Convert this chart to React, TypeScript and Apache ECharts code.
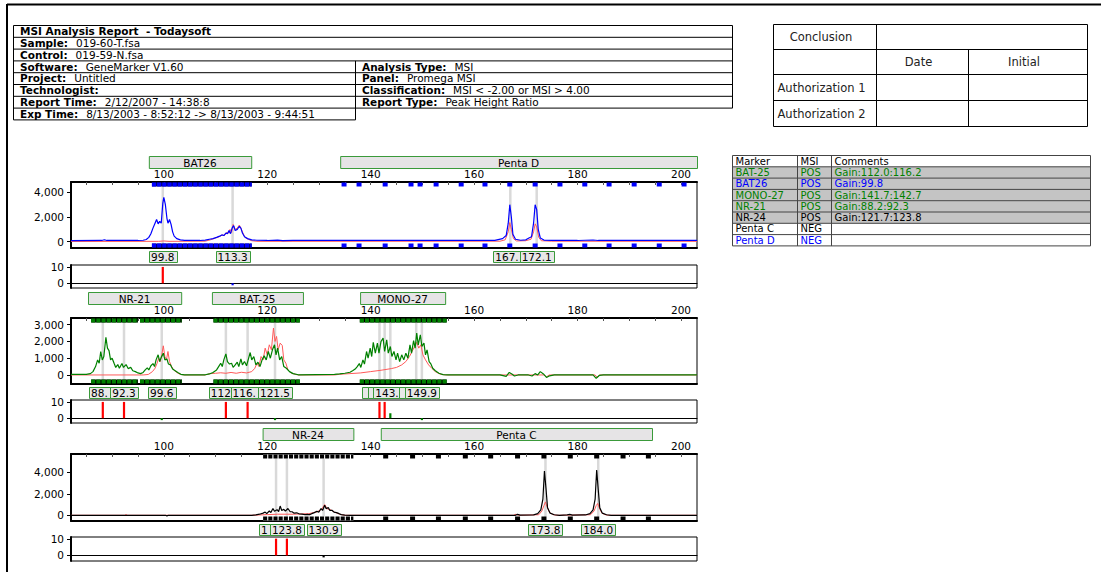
import React, { useEffect, useRef } from 'react';
import * as echarts from 'echarts';

const FONT = '"DejaVu Sans", Verdana, sans-serif';

// ---------- axes ----------
const X_MIN = 82.05;
const X_MAX = 203.1;
const X_LABELS = [100, 120, 140, 160, 180, 200];
const X_TICKS = [85, 90, 95, 100, 105, 110, 115, 120, 125, 130, 135, 140, 145, 150, 155, 160, 165, 170, 175, 180, 185, 190, 195, 200];
const RATIO_TICKS = [0, 10];

// ---------- panel 1 (BAT26 / Penta D, blue) ----------
const P1_Y_TICKS = [0, 2000, 4000];
const P1_SAMPLE: [number, number][] = [
  [82.05, 90], [88, 100], [88.5, 160], [89, 100], [95, 100], [96, 120], [96.6, 180], [97.1, 350], [97.5, 650], [97.9, 1100],
  [98.3, 1500], [98.6, 1800], [98.9, 1450], [99.2, 1650], [99.5, 1500], [99.8, 3100], [100, 3600], [100.3, 3000], [100.6, 1900],
  [100.8, 1500], [101.1, 1800], [101.4, 1400], [101.7, 800], [102, 450], [102.5, 250], [103.2, 150], [104, 110], [107, 100],
  [108, 130], [108.8, 200], [109.5, 250], [110.2, 350], [110.8, 450], [111.2, 550], [111.6, 500], [112, 700], [112.3, 650],
  [112.6, 900], [112.9, 650], [113.2, 1100], [113.5, 1300], [113.8, 900], [114.2, 1000], [114.6, 1250], [114.9, 1100],
  [115.2, 700], [115.6, 400], [116.2, 250], [117, 150], [118, 120], [120, 100], [122, 130], [123, 90], [125, 110], [130, 100],
  [135, 110], [140, 100], [145, 110], [150, 100], [155, 100], [160, 110], [164, 110], [165.5, 250], [166.2, 500], [166.6, 1500],
  [166.9, 3000], [167.2, 2000], [167.5, 600], [168, 200], [169, 120], [170, 150], [170.6, 300], [171.1, 400], [171.5, 1500],
  [171.8, 3000], [172.1, 2600], [172.4, 1000], [172.8, 300], [173.5, 130], [175, 110], [180, 100], [183, 140], [184, 100],
  [190, 100], [195, 110], [203.1, 100],
];
const P1_CONTROL: [number, number][] = [
  [82.05, 20], [99, 30], [100, 60], [101, 30], [108, 40], [109, 150], [110, 300], [110.8, 420], [111.3, 550], [111.7, 500],
  [112.1, 750], [112.5, 700], [112.8, 1000], [113.1, 750], [113.4, 1400], [113.8, 1000], [114.2, 1100], [114.6, 1350],
  [114.9, 1100], [115.3, 700], [115.7, 350], [116.3, 200], [117, 80], [118, 30], [165, 40], [166, 150], [166.6, 800],
  [166.9, 1550], [167.2, 1000], [167.6, 250], [168.2, 60], [170, 80], [171, 200], [171.5, 800], [171.8, 1450], [172.1, 1200],
  [172.5, 350], [173, 80], [175, 40], [203.1, 30],
];
const P1_MARKERS = ['BAT26', 'Penta D'];
const P1_MARKER_SPANS: [number, number][] = [[97.1, 116.9], [134.1, 203.1]];
const P1_BIN_RANGES: [number, number][] = [[97.7, 117.0]];
const P1_BINS = [134.85, 137.75, 142.8, 147.8, 149.55, 152.65, 157.5, 162.1, 166.9, 171.8, 176.6, 181.4, 186.1, 190.95, 195.8, 200.6];
const P1_PEAKS = [99.8, 113.3, 167.0, 172.1];
const P1_PEAK_TEXT = ['99.8', '113.3', '167.0', '172.1'];
const P1_RATIO: [number, number][] = [[99.8, 10.2], [113.3, -1.2]];
const P1_RATIO_COLORS = ['#ff0000', '#0000ff'];

// ---------- panel 2 (NR-21 / BAT-25 / MONO-27, green) ----------
const P2_Y_TICKS = [0, 1000, 2000, 3000];
const P2_SAMPLE: [number, number][] = [
  [82.05, 40], [85, 40], [85.8, 80], [86.3, 200], [86.8, 500], [87.2, 900], [87.5, 700], [87.8, 1400], [88.1, 900], [88.4, 1100],
  [88.8, 2250], [89.1, 1600], [89.4, 1450], [89.7, 900], [90, 1000], [90.4, 680], [90.7, 450], [91.1, 620], [91.4, 400],
  [91.9, 680], [92.2, 450], [92.7, 620], [93.1, 380], [93.6, 450], [94, 250], [94.5, 200], [95, 120], [95.5, 80], [96, 150],
  [96.4, 300], [96.8, 420], [97.1, 300], [97.5, 550], [97.9, 680], [98.2, 500], [98.5, 900], [98.9, 1200], [99.2, 800],
  [99.5, 1050], [99.9, 1300], [100.2, 900], [100.6, 950], [100.9, 650], [101.3, 600], [101.7, 350], [102.2, 250], [102.7, 150],
  [103.3, 40], [104, 10], [108, 10], [108.8, 60], [109.5, 150], [110.2, 300], [110.6, 500], [111, 700], [111.3, 500], [111.6, 900],
  [112, 1260], [112.3, 800], [112.7, 650], [113.1, 700], [113.4, 450], [113.8, 600], [114.2, 760], [114.5, 500], [114.9, 960],
  [115.2, 600], [115.6, 800], [116, 550], [116.4, 1000], [116.7, 1340], [117, 900], [117.4, 1100], [117.8, 600], [118.2, 760],
  [118.6, 500], [119, 900], [119.4, 1140], [119.8, 900], [120.2, 1400], [120.6, 1000], [121, 1500], [121.4, 1800], [121.7, 1200],
  [122, 1600], [122.4, 900], [122.8, 1100], [123.2, 500], [123.7, 400], [124.3, 200], [125, 80], [126, 10], [133, 30], [134, 60],
  [135, 100], [136, 160], [136.5, 250], [137, 350], [137.4, 500], [137.8, 680], [138.1, 450], [138.5, 900], [138.8, 650],
  [139.2, 1400], [139.5, 1000], [139.9, 1600], [140.2, 1100], [140.5, 1950], [140.9, 1300], [141.3, 1900], [141.6, 1300],
  [142, 2000], [142.4, 2200], [142.7, 1400], [143.1, 2100], [143.4, 1300], [143.8, 1700], [144.1, 1100], [144.5, 1400],
  [144.9, 900], [145.2, 1300], [145.6, 800], [146, 1200], [146.4, 900], [146.8, 1300], [147.2, 1000], [147.6, 1800],
  [147.9, 1300], [148.3, 2050], [148.6, 1600], [148.9, 2500], [149.2, 1800], [149.6, 2400], [149.9, 1700], [150.3, 1900],
  [150.6, 1200], [150.9, 1500], [151.3, 800], [151.6, 680], [152, 400], [152.5, 250], [153.2, 100], [154, 20], [155, 0],
  [165, 0], [166.2, -80], [166.8, 150], [167.3, 60], [167.8, -60], [168.5, 0], [170.5, 0], [171.2, -60], [171.8, 80], [172.3, 0],
  [172.8, 200], [173.4, 60], [174, -150], [174.6, -50], [175.5, 0], [183, 0], [183.6, -200], [184.2, -30], [185, 0], [203.1, 0],
];
const P2_CONTROL: [number, number][] = [
  [82.05, 0], [96, 0], [97, 30], [97.8, 200], [98.3, 400], [98.7, 700], [99, 1000], [99.3, 800], [99.6, 1200], [99.9, 1740],
  [100.2, 1100], [100.5, 900], [100.8, 1400], [101.1, 800], [101.5, 500], [101.9, 300], [102.5, 150], [103.2, 30], [104, 0],
  [108, 0], [109, 80], [110, 100], [111, 130], [112, 100], [113, 150], [114, 100], [115, 160], [116, 120], [117, 200],
  [117.6, 400], [118, 700], [118.4, 500], [118.8, 1100], [119.2, 900], [119.6, 1600], [120, 1200], [120.4, 1800], [120.8, 1500],
  [121.2, 2800], [121.5, 2000], [121.8, 2300], [122.1, 1500], [122.5, 1900], [122.9, 1760], [123.2, 900], [123.6, 700],
  [124, 300], [124.6, 120], [125.5, 30], [126, 0], [133, 0], [134, 40], [136, 80], [138, 120], [140, 200], [142, 280], [144, 380],
  [145, 450], [146, 600], [146.8, 800], [147.5, 1100], [148, 1400], [148.5, 1700], [148.9, 1950], [149.3, 1600], [149.7, 1800],
  [150.1, 1200], [150.6, 900], [151.2, 600], [151.8, 400], [152.5, 200], [153.5, 40], [154.5, 0], [173.5, 0], [174, -120],
  [174.5, 0], [183.4, 0], [183.8, -150], [184.3, 0], [203.1, 0],
];
const P2_MARKERS = ['NR-21', 'BAT-25', 'MONO-27'];
const P2_MARKER_SPANS: [number, number][] = [[85.34, 103.36], [109.3, 126.9], [137.95, 154.4]];
const P2_BIN_RANGES: [number, number][] = [[85.95, 95.0], [95.4, 103.5], [109.6, 126.3], [137.9, 154.7]];
const P2_BINS: number[] = [];
const P2_PEAKS = [88.2, 92.3, 99.6, 112.0, 116.2, 121.5, 141.7, 142.7, 143.8, 148.8, 149.9];
const P2_PEAK_TEXT = ['88.2', '92.3', '99.6', '112.0', '116.2', '121.5', '141.7', '142.7', '143.8', '148.8', '149.9'];
const P2_RATIO: [number, number][] = [
  [88.2, 10.2], [92.3, 10.2], [99.6, -1.2], [112.0, 10.2], [116.2, 10.2], [121.5, -1.2], [141.7, 10.2], [142.7, 10.2],
  [143.8, 3.1], [149.9, -1.2],
];
const P2_RATIO_COLORS = ['#ff0000', '#ff0000', '#008000', '#ff0000', '#ff0000', '#008000', '#ff0000', '#ff0000', '#008000', '#008000'];

// ---------- panel 3 (NR-24 / Penta C, black) ----------
const P3_Y_TICKS = [0, 2000, 4000];
const P3_SAMPLE: [number, number][] = [
  [82.05, 0], [100.3, 0], [100.6, -60], [100.9, 0], [117, 0], [117.8, 30], [118.5, 100], [119.2, 200], [119.6, 300], [119.9, 150],
  [120.4, 400], [120.7, 250], [121.1, 630], [121.4, 380], [121.9, 520], [122.2, 350], [122.5, 860], [122.8, 450], [123.2, 560],
  [123.5, 380], [124, 630], [124.4, 350], [124.8, 330], [125.2, 200], [125.7, 230], [126.2, 120], [126.7, 110], [127.3, 60],
  [127.8, 80], [128.2, 60], [128.6, 150], [129.1, 250], [129.6, 370], [130, 300], [130.4, 630], [130.7, 450], [131.1, 940],
  [131.4, 600], [131.8, 730], [132.1, 450], [132.5, 470], [132.9, 300], [133.4, 250], [133.9, 150], [134.3, 60], [135, 20],
  [136, 0], [168, 0], [168.4, 80], [168.9, 20], [171.5, 40], [172.3, 150], [172.9, 500], [173.3, 1500], [173.6, 4130],
  [173.9, 2500], [174.2, 700], [174.7, 200], [175.5, 50], [176.5, 0], [178, 30], [178.5, 80], [179, 10], [181.5, 30],
  [182.4, 150], [183, 500], [183.4, 1500], [183.7, 4220], [184, 2400], [184.3, 700], [184.8, 200], [185.6, 50], [186.5, 0],
  [203.1, 0],
];
const P3_CONTROL: [number, number][] = [
  [82.05, 0], [92.4, 0], [92.7, 60], [93, 0], [117, 0], [120, 60], [122, 100], [125, 100], [128, 150], [129.5, 300], [130.5, 550],
  [131.1, 1000], [131.6, 600], [132.3, 500], [133, 300], [134, 100], [135, 0], [167.6, 0], [168.1, 100], [168.6, 0], [172.5, 50],
  [173.1, 400], [173.5, 900], [173.8, 1250], [174.1, 800], [174.6, 250], [175.3, 60], [176, 0], [182.5, 50], [183.2, 400],
  [183.6, 900], [183.9, 1100], [184.2, 700], [184.7, 200], [185.4, 50], [186, 0], [203.1, 0],
];
const P3_MARKERS = ['NR-24', 'Penta C'];
const P3_MARKER_SPANS: [number, number][] = [[119.1, 136.65], [141.95, 194.4]];
const P3_BIN_RANGES: [number, number][] = [[119.2, 136.65]];
const P3_BINS = [142.9, 148.1, 153.1, 158.3, 163.2, 168.4, 173.5, 178.6, 183.7, 188.8, 193.7];
const P3_PEAKS = [121.7, 123.8, 130.9, 173.8, 184.0];
const P3_PEAK_TEXT = ['121.7', '123.8', '130.9', '173.8', '184.0'];
const P3_RATIO: [number, number][] = [[121.7, 10.2], [123.8, 10.2], [130.9, -1.2]];
const P3_RATIO_COLORS = ['#ff0000', '#ff0000', '#000000'];

// ---------- tables ----------
const HEADER_LEFT: [string, string][] = [
  ['MSI Analysis Report  - Todaysoft', ''],
  ['Sample:', '019-60-T.fsa'],
  ['Control:', '019-59-N.fsa'],
  ['Software:', 'GeneMarker V1.60'],
  ['Project:', 'Untitled'],
  ['Technologist:', ''],
  ['Report Time:', '2/12/2007 - 14:38:8'],
  ['Exp Time:', '8/13/2003 - 8:52:12 -> 8/13/2003 - 9:44:51'],
];
const HEADER_RIGHT: [string, string][] = [
  ['Analysis Type:', 'MSI'],
  ['Panel:', 'Promega MSI'],
  ['Classification:', 'MSI < -2.00 or MSI > 4.00'],
  ['Report Type:', 'Peak Height Ratio'],
];
const CONCLUSION_ROWS = ['Conclusion', '', 'Authorization 1', 'Authorization 2'];
const CONCLUSION_COLS = ['Date', 'Initial'];
const MT_HEAD = ['Marker', 'MSI', 'Comments'];
const MT_MARKERS = ['BAT-25', 'BAT26', 'MONO-27', 'NR-21', 'NR-24', 'Penta C', 'Penta D'];
const MT_MSI = ['POS', 'POS', 'POS', 'POS', 'POS', 'NEG', 'NEG'];
const MT_COMMENTS = ['Gain:112.0:116.2', 'Gain:99.8', 'Gain:141.7:142.7', 'Gain:88.2:92.3', 'Gain:121.7:123.8', '', ''];
const MT_COLORS = ['#008000', '#0000ff', '#008000', '#008000', '#000000', '#000000', '#0000ff'];

const CONTROL_COLOR = '#ff5a5a';
const BOX_STROKE = '#3a9a3a';
const LABEL_FONT = `10.5px ${FONT}`;

const fmt = (v: number) => String(v).replace(/\B(?=(\d{3})+(?!\d))/g, ',');

let measureCtx: CanvasRenderingContext2D | null = null;
function textWidth(t: string, font: string) {
  if (!measureCtx) measureCtx = document.createElement('canvas').getContext('2d');
  if (!measureCtx) return t.length * 6;
  measureCtx.font = font;
  return measureCtx.measureText(t).width;
}

function buildGraphic() {
  const G: any[] = [];
  const line = (x1: number, y1: number, x2: number, y2: number, w = 1, c = '#000') =>
    G.push({ type: 'line', silent: true, shape: { x1, y1, x2, y2 }, style: { stroke: c, lineWidth: w } });
  const rect = (x: number, y: number, w: number, h: number, fill: string) =>
    G.push({ type: 'rect', silent: true, shape: { x, y, width: w, height: h }, style: { fill } });
  const text = (x: number, y: number, t: string, font: string, color: string, align = 'left') =>
    G.push({
      type: 'text', silent: true, x, y,
      style: {
        text: t, fill: color, font,
        textAlign: align, align, textVerticalAlign: 'middle', verticalAlign: 'middle',
      },
    });
  const HB = `bold 10.5px ${FONT}`;
  const HN = `10.5px ${FONT}`;
  const pair = (x: number, y: number, label: string, value: string) => {
    text(x, y, label, HB, '#000');
    if (value) text(x + textWidth(label, HB) + 8, y, value, HN, '#000');
  };

  // page border
  line(7, 4.5, 1101, 4.5, 2);
  line(7, 4, 7, 572, 2);

  // header table
  const hx0 = 13.5, hx1 = 355.5, hx2 = 732.5, hy0 = 25.5, rh = 11.8;
  const ry = (i: number) => hy0 + i * rh;
  for (let i = 0; i <= 7; i++) line(hx0, ry(i), hx2, ry(i));
  line(hx0, ry(8), hx1, ry(8));
  line(hx0, ry(0), hx0, ry(8));
  line(hx2, ry(0), hx2, ry(7));
  line(hx1, ry(3), hx1, ry(8));
  HEADER_LEFT.forEach((r, i) => pair(hx0 + 6.5, ry(i) + rh / 2 - 0.3, r[0], r[1]));
  HEADER_RIGHT.forEach((r, i) => pair(hx1 + 6.5, ry(i + 3) + rh / 2 - 0.3, r[0], r[1]));

  // conclusion table
  const CF = `11.5px ${FONT}`;
  const cx = [773.5, 876.5, 968.5, 1087.5];
  const cy = [24.5, 49.5, 74.5, 100.5, 126.5];
  cy.forEach((y) => line(cx[0], y, cx[3], y));
  line(cx[0], cy[0], cx[0], cy[4]);
  line(cx[1], cy[0], cx[1], cy[4]);
  line(cx[3], cy[0], cx[3], cy[4]);
  line(cx[2], cy[1], cx[2], cy[4]);
  CONCLUSION_ROWS.forEach((t, i) => {
    if (!t) return;
    const yc = (cy[i] + cy[i + 1]) / 2;
    if (i === 0) text(821, yc, t, CF, '#222', 'center');
    else text(cx[0] + 4, yc, t, CF, '#222', 'left');
  });
  CONCLUSION_COLS.forEach((t, i) => text((cx[i + 1] + cx[i + 2]) / 2 - 4, (cy[1] + cy[2]) / 2, t, CF, '#222', 'center'));

  // marker table
  const MF = `10px ${FONT}`;
  const mx = [732.5, 797.5, 831.5, 1090.5];
  const my0 = 155.5, mrh = 11.3;
  const mry = (i: number) => my0 + i * mrh;
  for (let i = 1; i <= 5; i++) rect(mx[0], mry(i), mx[3] - mx[0], mrh, '#c4c4c4');
  for (let i = 0; i <= 8; i++) line(mx[0], mry(i), mx[3], mry(i), 1, '#444');
  mx.forEach((x) => line(x, mry(0), x, mry(8), 1, '#444'));
  MT_HEAD.forEach((t, j) => text(mx[j] + 3, mry(0) + mrh / 2, t, MF, '#000'));
  MT_MARKERS.forEach((t, i) => {
    const yc = mry(i + 1) + mrh / 2;
    const c = MT_COLORS[i];
    text(mx[0] + 3, yc, t, MF, c);
    text(mx[1] + 3, yc, MT_MSI[i], MF, c);
    if (MT_COMMENTS[i]) text(mx[2] + 3, yc, MT_COMMENTS[i], MF, c);
  });
  return G;
}

type Panel = {
  top: number; height: number; yMin: number; yMax: number; yTicks: number[];
  ratioTop: number; ratioHeight: number; rMin: number; rMax: number;
  color: string; sample: [number, number][]; control: [number, number][];
  markers: string[]; spans: [number, number][]; binRanges: [number, number][]; bins: number[];
  binGap: string; peaks: number[]; peakText: string[]; ratio: [number, number][]; ratioColors: string[];
};

const PANELS: Panel[] = [
  {
    top: 182, height: 66, yMin: -510, yMax: 4840, yTicks: P1_Y_TICKS, ratioTop: 265, ratioHeight: 23, rMin: -2.9, rMax: 11.4,
    color: '#0000ff', sample: P1_SAMPLE, control: P1_CONTROL, markers: P1_MARKERS, spans: P1_MARKER_SPANS,
    binRanges: P1_BIN_RANGES, bins: P1_BINS, binGap: '#000070', peaks: P1_PEAKS, peakText: P1_PEAK_TEXT,
    ratio: P1_RATIO, ratioColors: P1_RATIO_COLORS,
  },
  {
    top: 318, height: 66, yMin: -540, yMax: 3400, yTicks: P2_Y_TICKS, ratioTop: 400, ratioHeight: 23, rMin: -3.0, rMax: 11.4,
    color: '#008000', sample: P2_SAMPLE, control: P2_CONTROL, markers: P2_MARKERS, spans: P2_MARKER_SPANS,
    binRanges: P2_BIN_RANGES, bins: P2_BINS, binGap: '#000000', peaks: P2_PEAKS, peakText: P2_PEAK_TEXT,
    ratio: P2_RATIO, ratioColors: P2_RATIO_COLORS,
  },
  {
    top: 454, height: 67, yMin: -534, yMax: 5720, yTicks: P3_Y_TICKS, ratioTop: 537, ratioHeight: 24, rMin: -3.4, rMax: 11.2,
    color: '#000000', sample: P3_SAMPLE, control: P3_CONTROL, markers: P3_MARKERS, spans: P3_MARKER_SPANS,
    binRanges: P3_BIN_RANGES, bins: P3_BINS, binGap: '#ffffff', peaks: P3_PEAKS, peakText: P3_PEAK_TEXT,
    ratio: P3_RATIO, ratioColors: P3_RATIO_COLORS,
  },
];

const boxWidth = (t: string) => 6 * t.length + 4;

function buildOption() {
  const grid: any[] = [];
  const xAxis: any[] = [];
  const yAxis: any[] = [];
  const series: any[] = [];
  const base = { type: 'value', min: X_MIN, max: X_MAX, splitLine: { show: false } };
  const axisFont = { fontSize: 10.5, color: '#000', fontFamily: FONT };

  PANELS.forEach((p, pi) => {
    const gMain = pi * 2, gRatio = pi * 2 + 1;
    grid.push({ left: 71, top: p.top, width: 626, height: p.height, show: true, borderColor: '#000', borderWidth: 1, backgroundColor: 'transparent' });
    grid.push({ left: 71, top: p.ratioTop, width: 626, height: p.ratioHeight, show: true, borderColor: '#000', borderWidth: 1, backgroundColor: 'transparent' });
    const xTop = xAxis.length;
    xAxis.push({
      ...base, gridIndex: gMain, position: 'top',
      axisLine: { show: true, onZero: false, lineStyle: { color: '#000', width: 2 } },
      axisTick: { show: true, inside: true, length: 3, customValues: X_TICKS, lineStyle: { color: '#555' } },
      axisLabel: { show: true, customValues: X_LABELS, margin: 3, ...axisFont },
    });
    xAxis.push({
      ...base, gridIndex: gMain, position: 'bottom',
      axisLine: { show: true, onZero: false, lineStyle: { color: '#000', width: 2 } },
      axisTick: { show: false }, axisLabel: { show: false },
    });
    const xRatio = xAxis.length;
    xAxis.push({
      ...base, gridIndex: gRatio,
      axisLine: { show: true, onZero: true, lineStyle: { color: '#000', width: 1 } },
      axisTick: { show: false }, axisLabel: { show: false },
    });
    const yMain = yAxis.length;
    yAxis.push({
      type: 'value', gridIndex: gMain, min: p.yMin, max: p.yMax, splitLine: { show: false },
      axisLine: { show: true, onZero: false, lineStyle: { color: '#000', width: 2 } },
      axisTick: { show: true, length: 4, customValues: p.yTicks, lineStyle: { color: '#000' } },
      axisLabel: { customValues: p.yTicks, formatter: (v: number) => fmt(v), margin: 7, ...axisFont },
    });
    const yRatio = yAxis.length;
    yAxis.push({
      type: 'value', gridIndex: gRatio, min: p.rMin, max: p.rMax, splitLine: { show: false },
      axisLine: { show: true, onZero: false, lineStyle: { color: '#000', width: 2 } },
      axisTick: { show: true, length: 4, customValues: RATIO_TICKS, lineStyle: { color: '#000' } },
      axisLabel: { customValues: RATIO_TICKS, margin: 7, ...axisFont },
    });

    // grey peak lines
    series.push({
      type: 'custom', xAxisIndex: xTop, yAxisIndex: yMain, silent: true, z: 1,
      data: p.peaks.map((v) => [v, 0]),
      renderItem: (params: any, api: any) => {
        const cs = params.coordSys;
        const x = api.coord([api.value(0), 0])[0];
        return { type: 'line', shape: { x1: x, y1: cs.y + 1, x2: x, y2: cs.y + cs.height - 1 }, style: { stroke: '#d9d9d9', lineWidth: 2.5 } };
      },
    });
    // traces
    series.push({
      type: 'line', xAxisIndex: xTop, yAxisIndex: yMain, data: p.control, symbol: 'none', silent: true, z: 2,
      lineStyle: { color: CONTROL_COLOR, width: 1 },
    });
    series.push({
      type: 'line', xAxisIndex: xTop, yAxisIndex: yMain, data: p.sample, symbol: 'none', silent: true, z: 3,
      lineStyle: { color: p.color, width: 1.2 },
    });
    // bin ranges
    series.push({
      type: 'custom', xAxisIndex: xTop, yAxisIndex: yMain, silent: true, z: 4,
      data: p.binRanges.map((r) => [r[0], 0, r[1]]),
      renderItem: (params: any, api: any) => {
        const cs = params.coordSys;
        const x1 = api.coord([api.value(0), 0])[0];
        const x2 = api.coord([api.value(2), 0])[0];
        const h = 4;
        const children: any[] = [];
        [cs.y + 0.5, cs.y + cs.height - h - 0.5].forEach((yy) => {
          children.push({ type: 'rect', shape: { x: x1, y: yy, width: x2 - x1, height: h }, style: { fill: p.binGap } });
          children.push({ type: 'line', shape: { x1, y1: yy + h / 2, x2, y2: yy + h / 2 }, style: { stroke: p.color, lineWidth: h, lineDash: [4.1, 1.07] } });
        });
        return { type: 'group', children };
      },
    });
    // single bins
    series.push({
      type: 'custom', xAxisIndex: xTop, yAxisIndex: yMain, silent: true, z: 4,
      data: p.bins.map((v) => [v, 0]),
      renderItem: (params: any, api: any) => {
        const cs = params.coordSys;
        const x = api.coord([api.value(0), 0])[0];
        const h = 4, w = 5;
        return {
          type: 'group',
          children: [cs.y + 0.5, cs.y + cs.height - h - 0.5].map((yy) => ({
            type: 'rect', shape: { x: x - w / 2, y: yy, width: w, height: h }, style: { fill: p.color },
          })),
        };
      },
    });
    // marker name boxes
    series.push({
      type: 'custom', xAxisIndex: xTop, yAxisIndex: yMain, silent: true, z: 5,
      data: p.spans.map((s) => [s[0], 0, s[1]]),
      renderItem: (params: any, api: any) => {
        const cs = params.coordSys;
        const x1 = api.coord([api.value(0), 0])[0];
        const x2 = api.coord([api.value(2), 0])[0];
        const y = cs.y - 26;
        return {
          type: 'group',
          children: [
            { type: 'rect', shape: { x: x1 + 0.5, y: y + 0.5, width: x2 - x1, height: 12 }, style: { fill: '#e6e4e6', stroke: BOX_STROKE, lineWidth: 1 } },
            { type: 'text', style: { text: p.markers[params.dataIndex], x: (x1 + x2) / 2, y: y + 6.5, align: 'center', verticalAlign: 'middle', textAlign: 'center', textVerticalAlign: 'middle', fill: '#000', font: LABEL_FONT } },
          ],
        };
      },
    });
    // peak labels (later boxes cover the right part of earlier ones)
    series.push({
      type: 'custom', xAxisIndex: xTop, yAxisIndex: yMain, silent: true, z: 5,
      data: p.peaks.map((v) => [v, 0]),
      renderItem: (params: any, api: any) => {
        const cs = params.coordSys;
        const i = params.dataIndex;
        const x = api.coord([api.value(0), 0])[0];
        const t = p.peakText[i];
        const w = boxWidth(t);
        const left = Math.round(x - w / 2) + 0.5;
        let visRight = left + w;
        if (i < p.peaks.length - 1) {
          const nx = api.coord([p.peaks[i + 1], 0])[0];
          const nLeft = Math.round(nx - boxWidth(p.peakText[i + 1]) / 2) + 0.5;
          visRight = Math.min(visRight, nLeft);
        }
        const tw = textWidth(t, LABEL_FONT);
        const tLeft = x - tw / 2;
        let shown = t;
        while (shown.length && tLeft + textWidth(shown, LABEL_FONT) > visRight) shown = shown.slice(0, -1);
        const y = cs.y + cs.height + 3;
        const children: any[] = [
          { type: 'rect', shape: { x: left, y: y + 0.5, width: w, height: 11 }, style: { fill: '#e8e8e8', stroke: BOX_STROKE, lineWidth: 1 } },
        ];
        if (shown) {
          children.push({ type: 'text', style: { text: shown, x: tLeft, y: y + 6, align: 'left', verticalAlign: 'middle', textAlign: 'left', textVerticalAlign: 'middle', fill: '#000', font: LABEL_FONT } });
        }
        return { type: 'group', children };
      },
    });
    // ratio bars
    series.push({
      type: 'custom', xAxisIndex: xRatio, yAxisIndex: yRatio, silent: true, z: 3,
      data: p.ratio.map((r) => [r[0], r[1]]),
      renderItem: (params: any, api: any) => {
        const p0 = api.coord([api.value(0), 0]);
        const p1 = api.coord([api.value(0), api.value(1)]);
        return {
          type: 'rect',
          shape: { x: p0[0] - 1.1, y: Math.min(p0[1], p1[1]), width: 2.2, height: Math.abs(p1[1] - p0[1]) },
          style: { fill: p.ratioColors[params.dataIndex] },
        };
      },
    });
  });

  return {
    animation: false,
    backgroundColor: '#ffffff',
    textStyle: { fontFamily: FONT },
    grid, xAxis, yAxis, series,
    graphic: buildGraphic(),
  };
}

export default function App() {
  const ref = useRef<HTMLDivElement>(null);
  useEffect(() => {
    if (!ref.current) return;
    const chart = echarts.init(ref.current, undefined, { renderer: 'svg' });
    chart.setOption(buildOption() as any);
    return () => chart.dispose();
  }, []);
  return (
    <div
      ref={ref}
      style={{ position: 'absolute', left: 0, top: 0, width: 1101, height: 572, background: '#fff' }}
    />
  );
}
